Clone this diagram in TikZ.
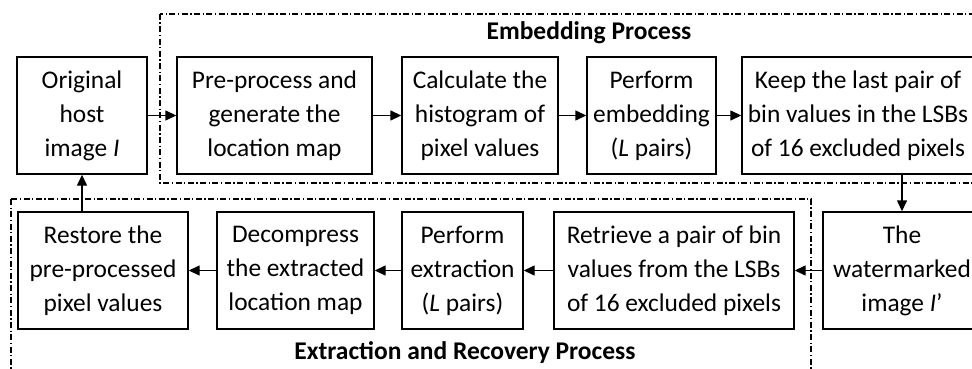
\documentclass[tikz,border=0pt]{standalone}
\usepackage{fontspec}
\setmainfont{Carlito}
\usetikzlibrary{arrows.meta}
\begin{document}
\begin{tikzpicture}[x=1pt,y=-1pt,
  box/.style={draw,line width=1.4pt,minimum height=117pt,inner sep=0pt,align=center,
    font=\fontsize{25.4}{34}\selectfont},
  frame/.style={line width=1.1pt,dash pattern=on 6pt off 2.5pt on 1.3pt off 2.5pt},
  arr/.style={line width=1.4pt,-{Triangle[length=11pt,width=10pt]}},
  lbl/.style={font=\fontsize{25.5}{30}\selectfont\bfseries,inner sep=0pt}]
\useasboundingbox (0,0) rectangle (972,369);
\begin{scope}
\clip (0,0) rectangle (972,369);
\draw[frame] (160,14) rectangle (995,183);
\draw[frame] (11,199) rectangle (811,380);
\node[box,minimum width=130pt] (orig) at (82,115.5) {Original\\host\\image \textit{I}};
\node[box,minimum width=195pt] (pre) at (274.5,115.5) {Pre-process and\\generate the\\location map};
\node[box,minimum width=156pt] (hist) at (480,115.5) {Calculate the\\histogram of\\pixel values};
\node[box,minimum width=129pt] (emb) at (651.5,115.5) {Perform\\embedding\\(\textit{L} pairs)};
\node[box,minimum width=232pt] (keep) at (858,115.5) {Keep the last pair of\\bin values in the LSBs\\of 16 excluded pixels};
\node[box,minimum width=158pt] (wm) at (902,270.5) {The\\watermarked\\image \textit{I}’};
\node[box,minimum width=240pt] (ret) at (674,270.5) {Retrieve a pair of bin\\values from the LSBs\\of 16 excluded pixels};
\node[box,minimum width=121pt] (ext) at (462.5,270.5) {Perform\\extraction\\(\textit{L} pairs)};
\node[box,minimum width=157pt] (dec) at (295.5,270.5) {Decompress\\the extracted\\location map};
\node[box,minimum width=170pt] (res) at (103,270.5) {Restore the\\pre-processed\\pixel values};
\node[lbl] (embl) at (589,33) {Embedding Process};
\node[lbl] (extl) at (465,353) {Extraction and Recovery Process};
\draw[arr] (orig) -- (pre);
\draw[arr] (pre) -- (hist);
\draw[arr] (hist) -- (emb);
\draw[arr] (emb) -- (keep);
\draw[arr] (keep.south -| wm) -- (wm.north);
\draw[arr] (wm) -- (ret);
\draw[arr] (ret) -- (ext);
\draw[arr] (ext) -- (dec);
\draw[arr] (dec) -- (res);
\draw[arr] (res.north -| orig) -- (orig.south);
\end{scope}
\end{tikzpicture}
\end{document}
